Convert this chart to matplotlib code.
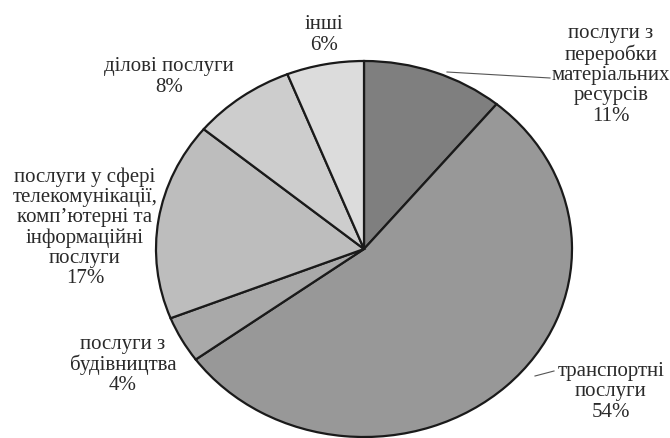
import matplotlib
matplotlib.use('Agg')
import matplotlib.pyplot as plt

# частки послуг, %
labels = ['послуги з\nпереробки\nматеріальних\nресурсів',
          'транспортні\nпослуги',
          'послуги з\nбудівництва',
          'послуги у сфері\nтелекомунікації,\nкомп\u2019ютерні та\nінформаційні\nпослуги',
          'ділові послуги',
          'інші']
values = [11, 54, 4, 17, 8, 6]
colors = ['#7f7f7f', '#989898', '#a9a9a9', '#bdbdbd', '#cdcdcd', '#dcdcdc']

W, H = 670, 439
fig = plt.figure(figsize=(W / 100, H / 100), dpi=100)

# pie is slightly stretched horizontally in the original
cx, cy, rx, ry = 364, 250, 208, 188
ax = fig.add_axes([(cx - rx) / W, (H - cy - ry) / H, 2 * rx / W, 2 * ry / H])
ax.pie(values, colors=colors, startangle=90, counterclock=False,
       wedgeprops=dict(edgecolor='#1a1a1a', linewidth=1.6))
ax.set_aspect('auto')
ax.set_xlim(-1, 1)
ax.set_ylim(-1, 1)
ax.axis('off')

# label positions in pixels (centre of text block)
label_pos = [(611, 75), (611, 392), (123, 365), (85, 228), (169, 77), (324, 35)]
for lab, v, (x, y) in zip(labels, values, label_pos):
    fig.text(x / W, 1 - y / H, f'{lab}\n{v}%', ha='center', va='center',
             family='Liberation Serif', fontsize=15, color='#2a2a2a',
             linespacing=1.08)

# leader lines
fig.add_artist(plt.Line2D([447 / W, 550 / W], [1 - 73 / H, 1 - 79 / H],
                          color='#555555', lw=0.8))
fig.add_artist(plt.Line2D([535 / W, 554 / W], [1 - 377 / H, 1 - 372 / H],
                          color='#555555', lw=0.8))

fig.savefig('out.png', dpi=100)
